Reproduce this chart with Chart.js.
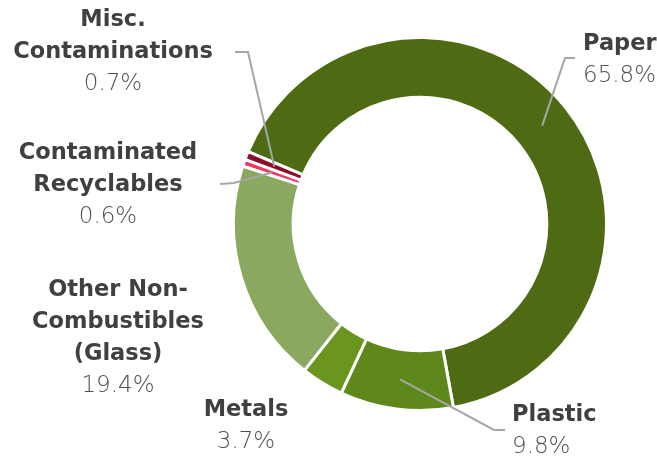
<!DOCTYPE html>
<html>
<head>
<meta charset="utf-8">
<script src="https://cdn.jsdelivr.net/npm/chart.js@4.4.1/dist/chart.umd.min.js"></script>
<style>
  html, body { margin: 0; padding: 0; background: #fff; }
  canvas { display: block; }
</style>
</head>
<body>
<canvas id="waste-chart" width="657" height="460"></canvas>
<script>
// waste composition, clockwise from the top-left
const categories = ['Paper', 'Plastic', 'Metals', 'Other Non-Combustibles (Glass)', 'Contaminated Recyclables', 'Misc. Contaminations'];
const shares = [65.8, 9.8, 3.7, 19.4, 0.6, 0.7];
const sliceColors = ['#4e6b14', '#5e881b', '#6a951f', '#8aa85f', '#ee3a60', '#8c0c2c'];

// how each category name is broken over lines
const labelLines = [
    ['Paper'],
    ['Plastic'],
    ['Metals'],
    ['Other Non-', 'Combustibles', '(Glass)'],
    ['Contaminated', 'Recyclables'],
    ['Misc.', 'Contaminations']
];

// text anchor, alignment and optional leader elbow for each label
const labelLayout = [
    { x: 583, y: 44, align: 'left', elbow: [[575, 58], [565, 58]] },
    { x: 512, y: 415, align: 'left', elbow: [[505, 430], [494, 430]] },
    { x: 246, y: 410, align: 'center' },
    { x: 118, y: 290, align: 'center' },
    { x: 108, y: 153, align: 'center', elbow: [[220, 184], [234, 183]] },
    { x: 113, y: 20, align: 'center', elbow: [[235, 52], [248, 52]] }
];

const lineGap = 32;
const nameFont = 'bold 22.5px "DejaVu Sans"';
const pctFont = '200 23px "DejaVu Sans"';

const calloutPlugin = {
    id: 'callouts',
    afterDatasetsDraw(chart) {
        const ctx = chart.ctx;
        const arcs = chart.getDatasetMeta(0).data;
        ctx.save();

        // leader lines run from the middle of the ring to the elbow
        ctx.strokeStyle = '#a6a6a6';
        ctx.lineWidth = 2;
        arcs.forEach((arc, i) => {
            const lay = labelLayout[i];
            if (!lay.elbow) return;
            const p = arc.tooltipPosition();
            ctx.beginPath();
            ctx.moveTo(lay.elbow[0][0], lay.elbow[0][1]);
            ctx.lineTo(lay.elbow[1][0], lay.elbow[1][1]);
            ctx.lineTo(p.x, p.y);
            ctx.stroke();
        });

        ctx.textBaseline = 'middle';
        categories.forEach((cat, i) => {
            const lay = labelLayout[i];
            ctx.textAlign = lay.align;
            let y = lay.y;
            ctx.font = nameFont;
            ctx.fillStyle = '#404040';
            labelLines[i].forEach(line => {
                ctx.fillText(line, lay.x, y);
                y += lineGap;
            });
            ctx.font = pctFont;
            ctx.fillStyle = '#505050';
            ctx.fillText(shares[i].toFixed(1) + '%', lay.x, y);
        });
        ctx.restore();
    }
};

new Chart(document.getElementById('waste-chart'), {
    type: 'doughnut',
    data: {
        labels: categories,
        datasets: [{
            data: shares,
            backgroundColor: sliceColors,
            borderColor: '#ffffff',
            borderWidth: 3
        }]
    },
    options: {
        responsive: false,
        animation: false,
        rotation: -67.2,
        cutout: '68%',
        layout: { padding: { left: 232, right: 49, top: 36, bottom: 48 } },
        plugins: {
            legend: { display: false },
            tooltip: { enabled: false }
        }
    },
    plugins: [calloutPlugin]
});
</script>
</body>
</html>
